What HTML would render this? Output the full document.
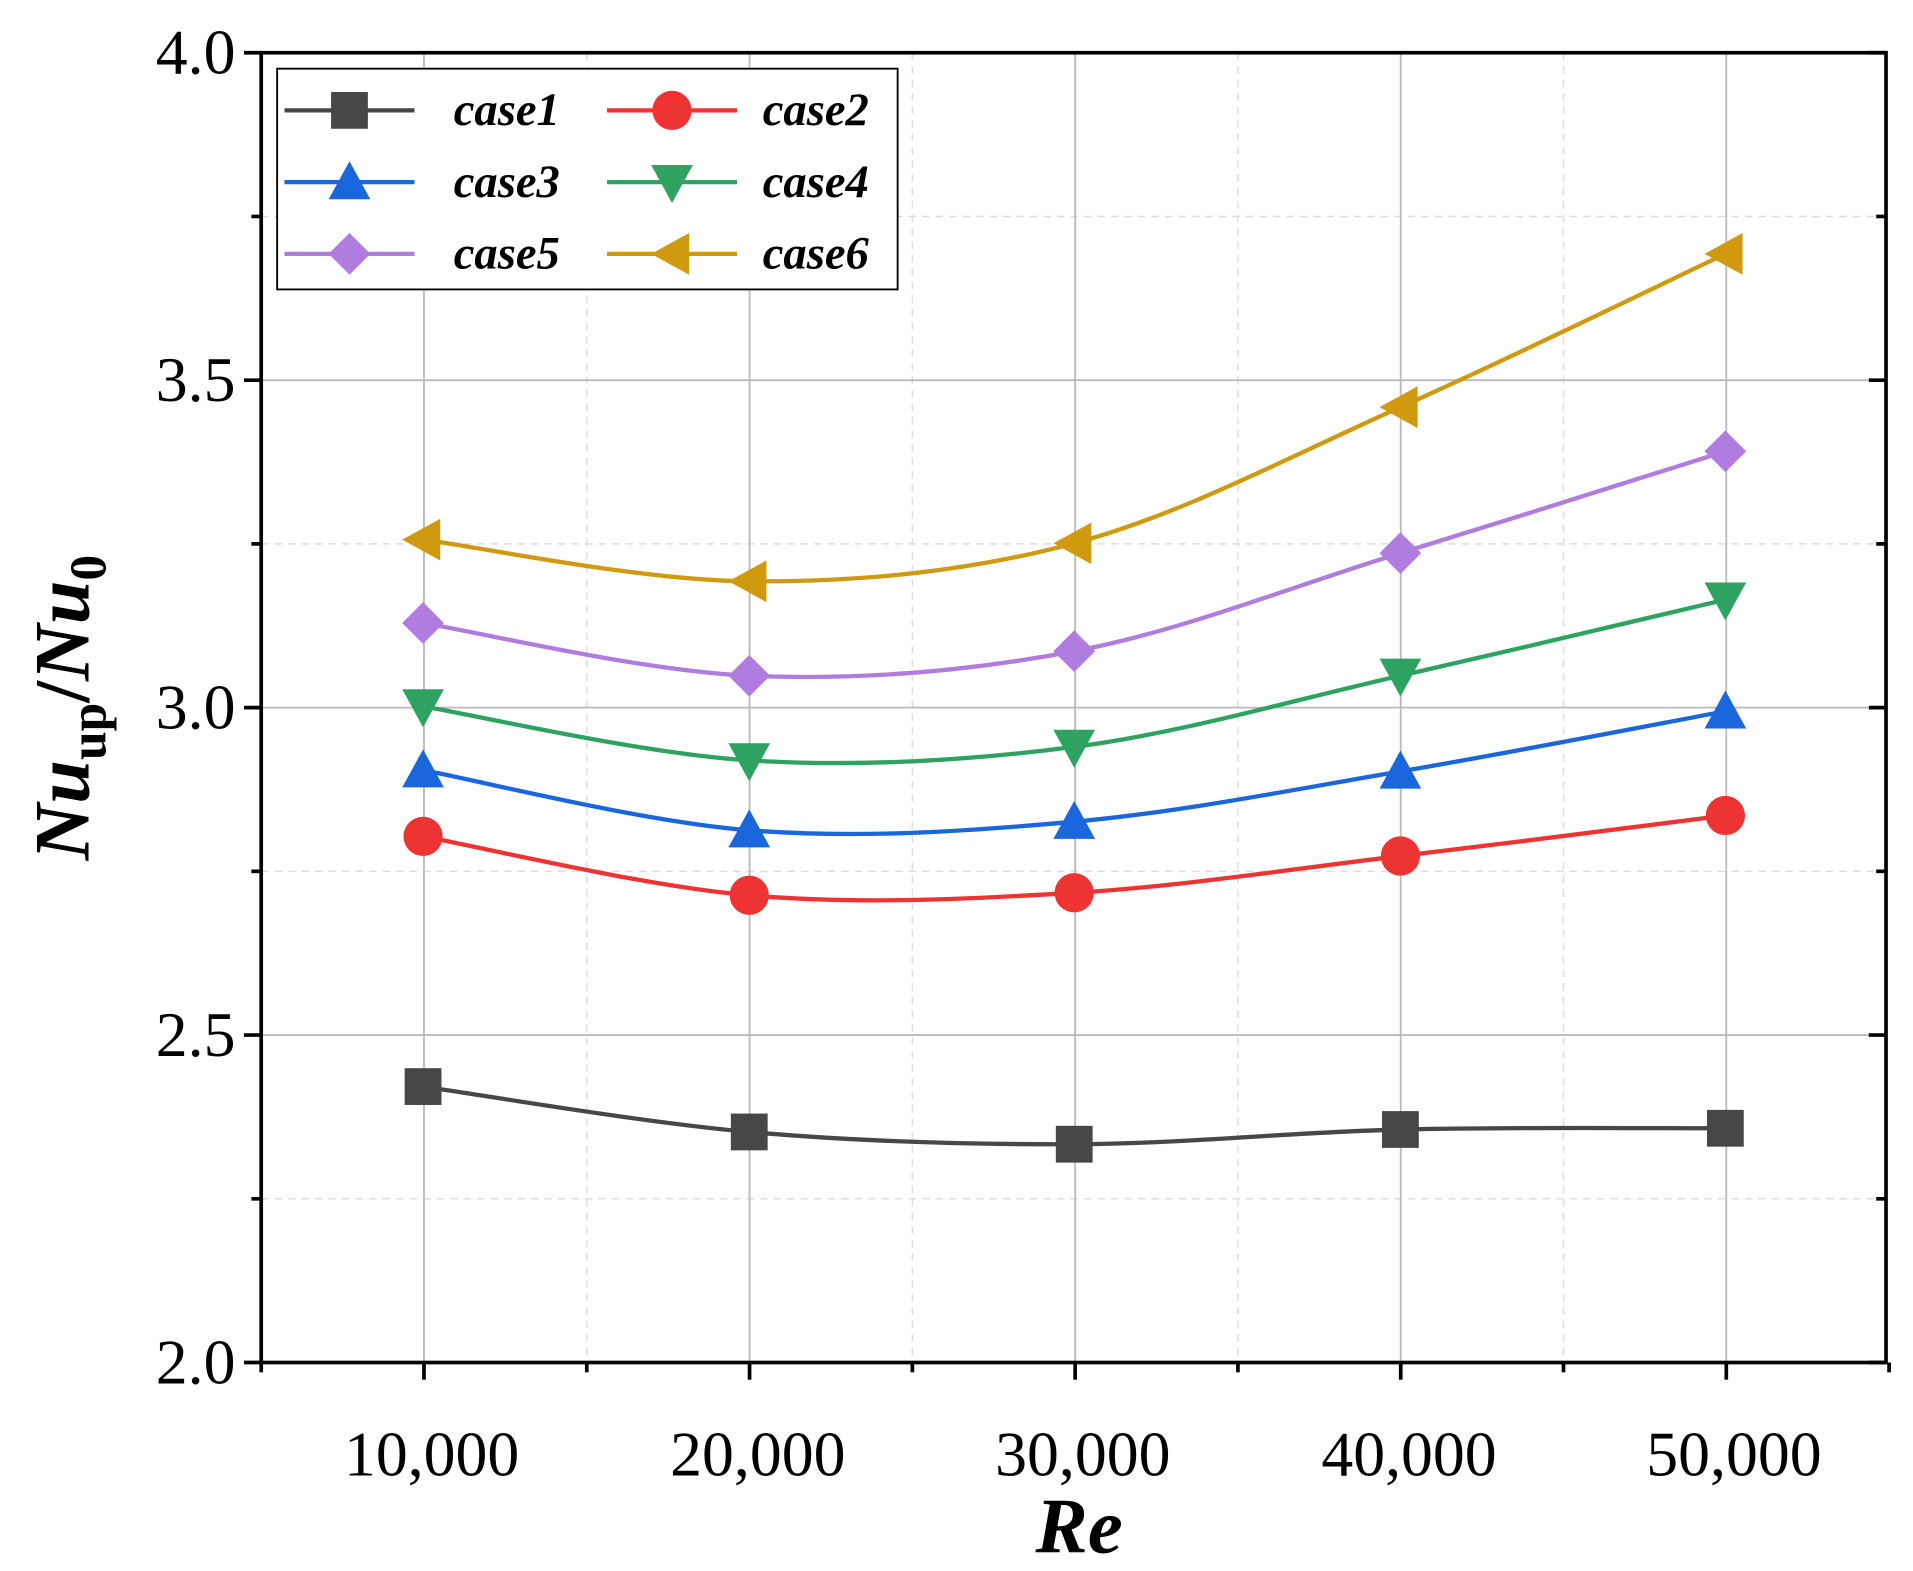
<!DOCTYPE html>
<html><head><meta charset="utf-8"><style>
html,body{margin:0;padding:0;background:#fff;width:1913px;height:1571px;overflow:hidden}
svg{display:block}
text{font-family:"Liberation Serif",serif}
</style></head><body>
<svg id="s" width="1913" height="1571" viewBox="0 0 1560 1281" preserveAspectRatio="none" xmlns="http://www.w3.org/2000/svg">
<g id="grid"></g>
<g id="series"></g>
<rect x="213" y="43" width="1325" height="1068" fill="none" stroke="#000" stroke-width="3"/>
<g id="ticks" stroke="#000" stroke-width="3"></g>
<g font-size="52" text-anchor="end">
<text x="192" y="60">4.0</text><text x="192" y="327">3.5</text><text x="192" y="594">3.0</text><text x="192" y="861">2.5</text><text x="192" y="1128">2.0</text>
</g>
<g font-size="52" text-anchor="middle">
<text x="352" y="1203">10,000</text><text x="618" y="1203">20,000</text><text x="883" y="1203">30,000</text><text x="1149" y="1203">40,000</text><text x="1414" y="1203">50,000</text>
</g>
<text x="880" y="1266" font-size="64" font-weight="bold" font-style="italic" text-anchor="middle">Re</text>
<text transform="translate(72,577) rotate(-90)" font-size="64" font-weight="bold" text-anchor="middle"><tspan font-style="italic">Nu</tspan><tspan font-size="42" dy="14">up</tspan><tspan dy="-14">/</tspan><tspan font-style="italic">Nu</tspan><tspan font-size="42" dy="14">0</tspan></text>
<rect x="226" y="56" width="506" height="180" fill="#fff" stroke="#000" stroke-width="1.5"/>
<g id="legend"></g>
</svg>
<script>
const NS="http://www.w3.org/2000/svg";
function el(p,t,a){const e=document.createElementNS(NS,t);for(const k in a)e.setAttribute(k,a[k]);p.appendChild(e);return e;}
const g=document.getElementById('grid'),tk=document.getElementById('ticks');
const X=v=>213+(v-5000)/10000*265.5, Y=v=>1111-(v-2)*534;
for(let v=2.25;v<4;v+=0.5){el(g,'line',{x1:213,x2:1538,y1:Y(v),y2:Y(v),stroke:'#ddd','stroke-dasharray':'6,5','stroke-width':1.2});}
for(let v=15000;v<55000;v+=10000){el(g,'line',{y1:43,y2:1111,x1:X(v),x2:X(v),stroke:'#ddd','stroke-dasharray':'6,5','stroke-width':1.2});}
for(let v=2.5;v<4;v+=0.5){el(g,'line',{x1:213,x2:1538,y1:Y(v),y2:Y(v),stroke:'#bbb','stroke-width':1.5});}
for(let v=10000;v<=50000;v+=10000){el(g,'line',{y1:43,y2:1111,x1:X(v),x2:X(v),stroke:'#bbb','stroke-width':1.5});}
for(let v=2;v<=4.001;v+=0.25){const y=Y(v),L=(Math.abs(v*2-Math.round(v*2))<0.01)?14:8;
 el(tk,'line',{x1:213-L,x2:213,y1:y,y2:y});el(tk,'line',{x1:1538-L,x2:1538,y1:y,y2:y});}
for(let v=5000;v<=55000;v+=5000){const x=X(v),L=(v%10000==0)?14:8;el(tk,'line',{x1:x,x2:x,y1:1111,y2:1111+L});}
const xs=[345,611,876,1142,1407];
const S=[
['#474747','sq',[886,923,933,921,920]],
['#ee3333','ci',[682,730,728,698,665]],
['#1a66dd','up',[628,677,670,629,580]],
['#2ea260','dn',[576,620,609,551,489]],
['#b07ce0','di',[508,551,531,451,368]],
['#d09a10','lt',[440,474,443,332,207]]];
function marker(p,t,x,y,c){const r=17;
 if(t=='sq')el(p,'rect',{x:x-r+2,y:y-r+2,width:2*r-4,height:2*r-4,fill:c});
 if(t=='ci')el(p,'circle',{cx:x,cy:y,r:r-1,fill:c});
 if(t=='up')el(p,'polygon',{points:`${x},${y-r} ${x-r},${y+r-3} ${x+r},${y+r-3}`,fill:c});
 if(t=='dn')el(p,'polygon',{points:`${x},${y+r} ${x-r},${y-r+3} ${x+r},${y-r+3}`,fill:c});
 if(t=='di')el(p,'polygon',{points:`${x},${y-r} ${x+r},${y} ${x},${y+r} ${x-r},${y}`,fill:c});
 if(t=='lt')el(p,'polygon',{points:`${x-r},${y} ${x+r-3},${y-r} ${x+r-3},${y+r}`,fill:c});}
const sg=document.getElementById('series');
S.forEach(([c,t,ys])=>{let d=`M${xs[0]},${ys[0]}`;const P=xs.map((x,i)=>[x,ys[i]]);
 for(let i=0;i<4;i++){const p0=P[Math.max(i-1,0)],p1=P[i],p2=P[i+1],p3=P[Math.min(i+2,4)];
  d+=` C${p1[0]+(p2[0]-p0[0])/6},${p1[1]+(p2[1]-p0[1])/6} ${p2[0]-(p3[0]-p1[0])/6},${p2[1]-(p3[1]-p1[1])/6} ${p2[0]},${p2[1]}`;}
 el(sg,'path',{d:d,fill:'none',stroke:c,'stroke-width':3.5});
 P.forEach(p=>marker(sg,t,p[0],p[1],c));});
const lg=document.getElementById('legend');
S.forEach(([c,t],i)=>{const col=i%2,row=Math.floor(i/2);const x0=col?495:232,y=90+row*58.5;
 el(lg,'line',{x1:x0,x2:x0+106,y1:y,y2:y,stroke:c,'stroke-width':3.5});marker(lg,t,x0+53,y,c);
 const tx=el(lg,'text',{x:col?622:370,y:y+12,'font-size':38,'font-weight':'bold','font-style':'italic'});tx.textContent='case'+(i+1);});
</script>
</body></html>
